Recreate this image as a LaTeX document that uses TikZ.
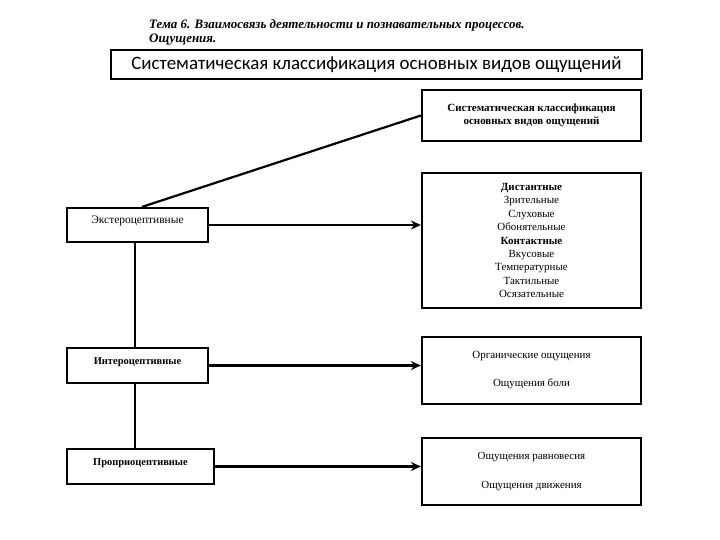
\documentclass[tikz,border=0pt]{standalone}
\usepackage{fontspec}
\setmainfont{Liberation Serif}
\newfontfamily\titlefont{Carlito}
\usetikzlibrary{arrows.meta}
\begin{document}
\begin{tikzpicture}[x=1bp,y=-1bp,
  box/.style={draw=black,line width=2.2bp,inner sep=0pt,align=center,
    font=\fontsize{11}{13.5}\selectfont},
  leftbox/.style={box,text height=6bp,text depth=8bp},
  conn/.style={line width=2.2bp},
  arr/.style={conn,-{Stealth[length=10bp,width=9bp]}}]
\useasboundingbox[fill=white] (0,0) rectangle (720,540);
\node[anchor=north west,align=left,inner sep=0pt,font=\bfseries\itshape\fontsize{13}{14}\selectfont] (head) at (149,19)
  {Тема 6. Взаимосвязь деятельности и познавательных процессов.\\Ощущения.};
\node[box,line width=2.6bp,minimum width=531bp,minimum height=29bp,font=\titlefont\fontsize{19}{22}\selectfont] (title) at (376.5,64.5)
  {Систематическая классификация основных видов ощущений};
\node[box,minimum width=219bp,minimum height=51bp,font=\bfseries\fontsize{11}{13}\selectfont] (top) at (531.5,115.5)
  {Систематическая классификация\\основных видов ощущений};
\node[box,minimum width=219bp,minimum height=135bp] (dist) at (531.5,240.5)
  {\textbf{Дистантные}\\Зрительные\\Слуховые\\Обонятельные\\\textbf{Контактные}\\Вкусовые\\Температурные\\Тактильные\\Осязательные};
\node[box,minimum width=219bp,minimum height=67bp] (org) at (531.5,370.5)
  {Органические ощущения\\[14.5bp]Ощущения боли};
\node[box,minimum width=219bp,minimum height=67bp] (bal) at (531.5,471.5)
  {Ощущения равновесия\\[15.5bp]Ощущения движения};
\node[leftbox,minimum width=141bp,minimum height=34bp,font=\fontsize{11.5}{13.5}\selectfont] (ext) at (137.5,225) {Экстероцептивные};
\node[leftbox,minimum width=141bp,minimum height=35bp,font=\bfseries\fontsize{10.5}{13.5}\selectfont] (int) at (137.5,365.5) {Интероцептивные};
\node[leftbox,minimum width=147bp,minimum height=35bp,font=\bfseries\fontsize{10.5}{13.5}\selectfont] (prop) at (140.5,466.5) {Проприоцептивные};
\draw[conn] ([xshift=4.5bp]ext.north) -- (top.west);
\draw[conn] ([xshift=-2.5bp]ext.south) -- ([xshift=-2.5bp]int.north);
\draw[conn] ([xshift=-2.5bp]int.south) -- ([xshift=-2.5bp]int.south |- prop.north);
\draw[arr] (ext.east) -- (ext.east -| dist.west);
\draw[arr] (int.east) -- (int.east -| org.west);
\draw[arr] (prop.east) -- (prop.east -| bal.west);
\end{tikzpicture}
\end{document}
